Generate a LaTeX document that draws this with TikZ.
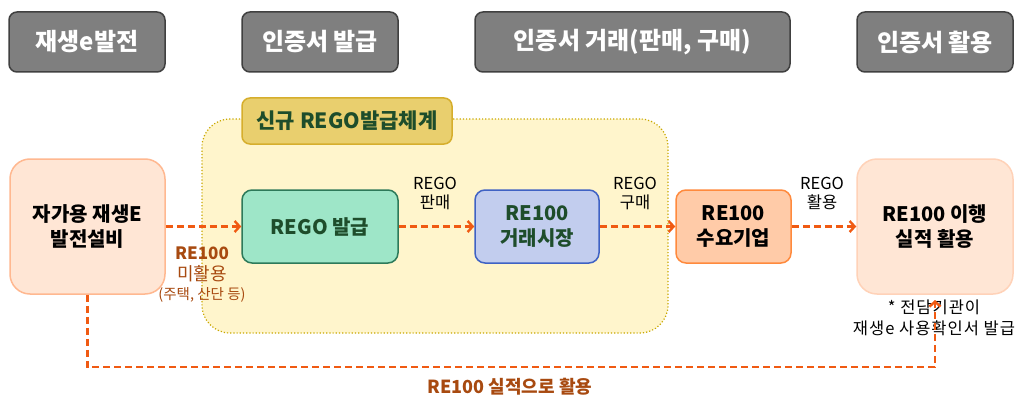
\documentclass[tikz,border=0pt]{standalone}
\usepackage{fontspec}
\setmainfont{Noto Sans CJK KR}
\usetikzlibrary{arrows.meta}
\definecolor{hdrfill}{HTML}{7F7F7F}
\definecolor{hdrline}{HTML}{404040}
\definecolor{regfill}{HTML}{FFF5CC}
\definecolor{regline}{HTML}{C8A800}
\definecolor{tagfill}{HTML}{E9CF6E}
\definecolor{tagline}{HTML}{D6AE2C}
\definecolor{dgreen}{HTML}{1E4D2B}
\definecolor{peach}{HTML}{FFE6D5}
\definecolor{peachline}{HTML}{FFB890}
\definecolor{peachline2}{HTML}{FFD2B8}
\definecolor{mint}{HTML}{9EE6C8}
\definecolor{mintline}{HTML}{2D7A5A}
\definecolor{lblue}{HTML}{C2CDEE}
\definecolor{blueline}{HTML}{3F62C4}
\definecolor{salmon}{HTML}{FFCBA8}
\definecolor{salmonline}{HTML}{FF8A3D}
\definecolor{flowc}{HTML}{F05A12}
\definecolor{brownc}{HTML}{A84A10}
\tikzset{
  x=1pt, y=-1pt,
  hdr/.style={draw=hdrline, line width=1.5pt, fill=hdrfill, rounded corners=8pt,
    minimum height=60pt, text=white, font=\fontsize{24}{28}\selectfont\bfseries, inner sep=0pt},
  box/.style={rounded corners=10pt, line width=1.5pt, minimum height=73pt, inner sep=0pt,
    align=center, font=\fontsize{20}{25}\selectfont\bfseries},
  bigbox/.style={rounded corners=20pt, line width=1.5pt, minimum width=155pt, minimum height=135pt,
    inner sep=0pt, align=center, font=\fontsize{20}{25}\selectfont\bfseries},
  lbl/.style={align=center, font=\fontsize{16.5}{19}\selectfont, inner sep=0pt},
  flow/.style={draw=flowc, line width=2.4pt, dash pattern=on 7pt off 4pt,
    -{Straight Barb[length=5pt,width=11pt,line width=2.4pt]}},
}
\begin{document}
\begin{tikzpicture}
\path[use as bounding box, fill=white] (0,0) rectangle (1032,401);
% headers
\node[hdr, minimum width=156pt] (h1) at (87,42) {재생e발전};
\node[hdr, minimum width=156pt] (h2) at (320,42) {인증서 발급};
\node[hdr, minimum width=315pt] (h3) at (632.5,42) {인증서 거래(판매, 구매)};
\node[hdr, minimum width=156pt] (h4) at (935,42) {인증서 활용};
% region
\node[draw=regline, fill=regfill, line width=1.2pt, dotted, rounded corners=28pt,
  minimum width=466pt, minimum height=214pt, inner sep=0pt] (region) at (435,226) {};
\node[draw=tagline, fill=tagfill, line width=1.5pt, rounded corners=8pt, minimum width=210pt,
  minimum height=46pt, inner sep=0pt, text=dgreen, font=\fontsize{21}{25}\selectfont\bfseries]
  (tag) at (347,121) {신규 REGO발급체계};
% boxes
\node[bigbox, draw=peachline, fill=peach] (src) at (87.5,226.5) {자가용 재생E\\발전설비};
\node[box, draw=mintline, fill=mint, minimum width=156pt, text=dgreen] (rego) at (320,226.5) {REGO 발급};
\node[box, draw=blueline, fill=lblue, minimum width=124pt, text=dgreen] (market) at (537,226.5) {RE100\\거래시장};
\node[box, draw=salmonline, fill=salmon, minimum width=115pt] (demand) at (733.5,226.5) {RE100\\수요기업};
\node[bigbox, draw=peachline2, fill=peach, minimum width=156pt] (dest) at (935,226.5) {RE100 이행\\실적 활용};
% labels
\node[lbl] (l1) at (435,193) {REGO\\판매};
\node[lbl] (l2) at (635,193) {REGO\\구매};
\node[lbl] (l3) at (822,193) {REGO\\활용};
\node[align=center, inner sep=0pt, text=brownc, font=\fontsize{17}{20}\selectfont] (l4) at (202,275)
  {{\bfseries RE100}\\[1pt]{\fontsize{18}{20}\selectfont 미활용}\\[-1pt]{\fontsize{14.5}{20}\selectfont (주택, 산단 등)}};
\node[lbl, font=\fontsize{16.5}{21}\selectfont\addfontfeature{LetterSpace=6}] (l5) at (934,318) {* 전담기관이\\재생e 사용확인서 발급};
\node[text=brownc, inner sep=0pt, font=\fontsize{18}{22}\selectfont\bfseries] (l6) at (510,387) {RE100 실적으로 활용};
% connectors
\draw[flow] (src.east) -- (rego.west);
\draw[flow] (rego.east) -- (market.west);
\draw[flow] (market.east) -- (demand.west);
\draw[flow] (demand.east) -- (dest.west);
\coordinate (tip) at (935,300);
\coordinate (low) at (510,367);
\draw[flow] (src.south) |- (low) -| (tip);
\end{tikzpicture}
\end{document}
